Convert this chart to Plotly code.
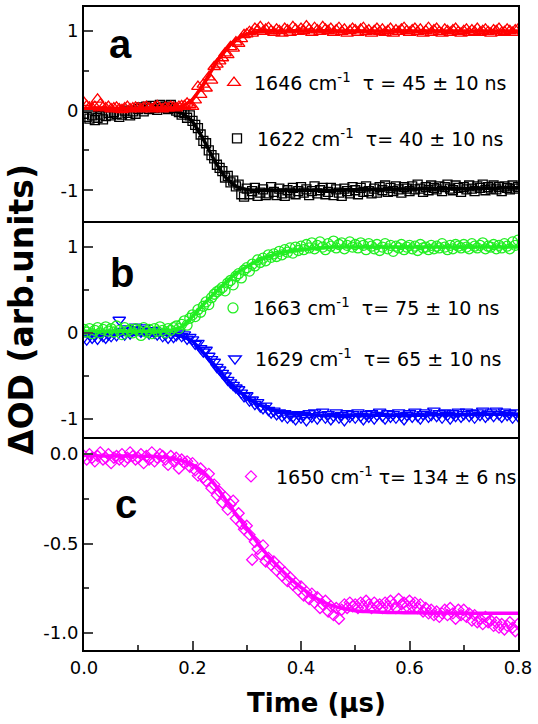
import plotly.graph_objects as go

# sampling grids (μs)
time = [round(i * 0.005, 3) for i in range(161)]
fit_time = [round(i * 0.02, 2) for i in range(41)]

# ---- panel a ----
red_1646 = [
    0.10, 0.06, 0.04, 0.03, 0.05, 0.14, 0.08, 0.04, 0.03, 0.05,
    0.02, 0.03, 0.04, 0.02, 0.01, 0.03, 0.05, 0.02, 0.03, 0.04,
    0.03, 0.02, 0.04, 0.05, 0.03, 0.02, 0.04, 0.06, 0.03, 0.02,
    0.04, 0.03, 0.05, 0.04, 0.03, 0.05, 0.06, 0.06, 0.09, 0.07,
    0.05, 0.13, 0.30, 0.20, 0.33, 0.28, 0.42, 0.38, 0.55, 0.58,
    0.62, 0.66, 0.72, 0.70, 0.80, 0.78, 0.86, 0.84, 0.90, 0.95,
    0.96, 0.99, 0.97, 1.03, 1.01, 1.05, 0.99, 1.02, 1.04, 1.00,
    0.98, 1.02, 1.00, 0.97, 1.03, 1.01, 0.98, 1.05, 1.02, 0.99,
    1.03, 1.00, 1.06, 1.02, 0.98, 1.04, 1.01, 0.99, 1.05, 1.02,
    1.00, 1.03, 0.98, 1.01, 1.04, 0.99, 1.02, 0.97, 1.00, 1.03,
    1.01, 0.98, 1.02, 1.04, 0.99, 1.01, 0.97, 1.00, 1.03, 0.99,
    1.02, 0.98, 1.00, 1.03, 0.97, 1.01, 0.99, 1.02, 1.04, 1.00,
    0.98, 1.01, 1.03, 0.99, 1.02, 0.97, 1.00, 1.04, 0.98, 1.01,
    1.03, 0.99, 0.97, 1.02, 1.00, 0.98, 1.01, 1.03, 0.99, 0.97,
    1.00, 1.02, 0.98, 1.01, 0.99, 1.03, 0.98, 1.00, 1.02, 0.99,
    0.97, 1.01, 1.00, 1.03, 0.98, 0.99, 1.02, 1.00, 0.98, 1.01,
    1.02,
]
black_1622 = [
    -0.04, -0.08, -0.10, -0.06, -0.12, -0.09, -0.05, -0.11, -0.07, -0.03,
    -0.06, -0.02, -0.04, -0.08, -0.05, 0.00, -0.03, -0.06, -0.01, -0.04,
    0.02, 0.04, -0.01, 0.05, 0.02, 0.06, 0.03, 0.01, 0.07, 0.04,
    0.05, 0.02, 0.07, 0.03, 0.00, -0.02, -0.05, -0.03, -0.09, -0.06,
    -0.13, -0.18, -0.22, -0.30, -0.38, -0.41, -0.50, -0.56, -0.60, -0.68,
    -0.72, -0.76, -0.84, -0.82, -0.90, -0.88, -0.95, -0.93, -1.05, -1.08,
    -0.98, -1.05, -1.01, -0.97, -1.07, -1.03, -0.99, -1.06, -1.04, -0.96,
    -1.02, -1.06, -0.98, -1.04, -1.07, -1.00, -1.03, -0.97, -1.05, -1.01,
    -0.96, -1.03, -0.99, -1.06, -1.01, -0.95, -1.04, -1.00, -0.97, -1.05,
    -1.02, -0.97, -1.06, -0.99, -1.03, -1.07, -0.98, -1.01, -1.04, -0.96,
    -1.00, -1.05, -0.97, -1.02, -0.95, -1.01, -1.04, -0.98, -1.03, -0.96,
    -1.00, -0.94, -1.02, -0.97, -1.01, -0.95, -0.99, -1.03, -0.96, -0.98,
    -1.01, -0.95, -0.99, -0.93, -0.98, -1.02, -0.96, -1.00, -0.94, -0.97,
    -0.99, -0.95, -1.01, -0.96, -0.93, -0.98, -1.00, -0.94, -0.97, -1.02,
    -0.96, -0.99, -0.94, -0.98, -1.01, -0.95, -0.97, -0.93, -1.00, -0.96,
    -0.98, -0.94, -0.99, -0.96, -1.01, -0.95, -0.97, -0.99, -0.94, -0.98,
    -0.96,
]
red_fit = [
    0.03, 0.03, 0.03, 0.03, 0.03, 0.03, 0.03, 0.03, 0.03, 0.05,
    0.14, 0.33, 0.56, 0.76, 0.89, 0.96, 0.99, 1.00, 1.00, 1.00,
    1.00, 1.00, 1.00, 1.00, 1.00, 1.00, 1.00, 1.00, 1.00, 1.00,
    1.00, 1.00, 1.00, 1.00, 1.00, 1.00, 1.00, 1.00, 1.00, 1.00,
    1.00,
]
black_fit = [
    0.00, 0.00, 0.00, 0.00, 0.00, 0.00, 0.00, 0.00, -0.005, -0.03,
    -0.14, -0.36, -0.62, -0.83, -0.95, -0.99, -1.00, -1.00, -1.00, -1.00,
    -1.00, -1.00, -1.00, -1.00, -0.995, -0.995, -0.99, -0.99, -0.99, -0.985,
    -0.985, -0.985, -0.98, -0.98, -0.98, -0.98, -0.975, -0.975, -0.975, -0.97,
    -0.97,
]

# ---- panel b ----
green_1663 = [
    0.04, 0.01, 0.05, -0.01, 0.03, 0.06, 0.00, 0.04, 0.07, 0.02,
    0.05, 0.01, 0.08, 0.03, -0.02, 0.06, 0.02, 0.04, 0.00, 0.05,
    0.03, -0.03, 0.06, 0.01, 0.04, -0.01, 0.05, 0.02, 0.07, 0.03,
    0.00, 0.05, 0.03, 0.06, 0.08, 0.05, 0.10, 0.14, 0.09, 0.17,
    0.21, 0.19, 0.27, 0.24, 0.31, 0.36, 0.33, 0.41, 0.45, 0.48,
    0.50, 0.53, 0.49, 0.58, 0.61, 0.56, 0.66, 0.69, 0.64, 0.73,
    0.76, 0.72, 0.80, 0.78, 0.85, 0.82, 0.87, 0.84, 0.91, 0.88,
    0.92, 0.89, 0.95, 0.91, 0.97, 0.94, 0.99, 0.93, 1.00, 0.96,
    1.01, 0.97, 1.03, 0.99, 1.05, 0.98, 1.02, 1.06, 1.00, 0.97,
    1.04, 1.01, 1.07, 0.99, 1.03, 1.05, 0.98, 1.02, 1.06, 1.00,
    1.03, 0.99, 1.05, 1.02, 0.97, 1.04, 1.01, 0.98, 1.03, 0.96,
    1.00, 1.04, 0.98, 1.02, 0.95, 1.01, 0.99, 1.03, 0.97, 1.00,
    1.02, 0.98, 1.01, 0.96, 1.03, 0.99, 1.00, 0.97, 1.02, 0.98,
    1.01, 0.99, 1.04, 1.00, 0.97, 1.02, 0.98, 1.03, 1.01, 0.99,
    1.03, 1.00, 0.98, 1.04, 1.01, 0.99, 1.02, 1.05, 0.98, 1.01,
    1.00, 1.03, 0.98, 1.02, 0.99, 1.04, 1.01, 0.98, 1.06, 1.02,
    1.08,
]
blue_1629 = [
    -0.05, -0.08, -0.02, -0.06, -0.03, -0.07, -0.01, -0.04, -0.06, -0.02,
    -0.04, 0.00, -0.03, 0.15, 0.02, -0.02, 0.05, -0.01, 0.03, 0.07,
    0.04, 0.01, 0.06, 0.02, -0.01, 0.03, 0.00, -0.02, 0.01, -0.04,
    -0.02, -0.06, -0.01, -0.05, -0.03, 0.00, -0.04, -0.02, -0.07, -0.05,
    -0.08, -0.13, -0.12, -0.18, -0.22, -0.20, -0.27, -0.31, -0.34, -0.40,
    -0.43, -0.47, -0.50, -0.55, -0.58, -0.61, -0.64, -0.66, -0.70, -0.74,
    -0.73, -0.79, -0.78, -0.83, -0.81, -0.86, -0.88, -0.85, -0.90, -0.93,
    -0.91, -0.95, -0.93, -0.97, -0.94, -0.99, -0.96, -0.98, -1.01, -0.95,
    -0.99, -0.96, -1.02, -0.94, -0.98, -0.93, -1.00, -0.96, -0.92, -0.99,
    -0.95, -1.01, -0.97, -0.93, -0.99, -0.96, -1.02, -0.94, -0.98, -0.95,
    -0.99, -0.93, -0.97, -1.01, -0.95, -0.98, -0.94, -1.00, -0.96, -0.92,
    -0.97, -1.00, -0.94, -0.98, -0.95, -0.99, -0.93, -0.97, -1.01, -0.96,
    -0.94, -0.98, -0.92, -0.97, -1.00, -0.95, -0.93, -0.98, -0.96, -0.91,
    -0.97, -0.94, -0.99, -0.93, -0.96, -1.00, -0.94, -0.97, -0.92, -0.98,
    -0.95, -0.92, -0.97, -0.94, -0.99, -0.93, -0.96, -0.91, -0.98, -0.95,
    -0.93, -0.97, -0.91, -0.95, -0.98, -0.92, -0.96, -0.94, -0.99, -0.93,
    -0.97,
]
green_fit = [
    0.02, 0.02, 0.02, 0.02, 0.02, 0.02, 0.02, 0.02, 0.03, 0.07,
    0.19, 0.33, 0.46, 0.58, 0.69, 0.77, 0.84, 0.89, 0.93, 0.955,
    0.97, 0.98, 0.99, 1.00, 1.00, 1.00, 1.00, 1.00, 1.00, 1.00,
    1.00, 1.00, 1.00, 1.00, 1.00, 1.00, 1.00, 1.00, 1.00, 1.00,
    1.00,
]
blue_fit = [
    -0.02, -0.02, -0.02, -0.02, -0.02, -0.02, -0.02, -0.02, -0.02, -0.04,
    -0.10, -0.23, -0.37, -0.52, -0.65, -0.75, -0.83, -0.88, -0.915, -0.935,
    -0.948, -0.955, -0.96, -0.96, -0.96, -0.96, -0.96, -0.96, -0.96, -0.96,
    -0.96, -0.96, -0.955, -0.955, -0.955, -0.955, -0.95, -0.95, -0.95, -0.95,
    -0.95,
]

# ---- panel c ----
magenta_1650 = [
    -0.01, -0.03, 0.00, -0.02, -0.04, -0.01, 0.01, -0.03, -0.02, 0.00,
    -0.05, -0.02, -0.01, -0.03, 0.00, -0.04, -0.02, 0.01, -0.01, -0.03,
    -0.02, 0.00, -0.05, -0.01, -0.03, 0.01, -0.04, -0.02, 0.00, -0.01,
    -0.03, -0.06, -0.01, -0.04, -0.02, -0.08, -0.03, -0.05, -0.04, -0.07,
    -0.05, -0.09, -0.12, -0.08, -0.13, -0.15, -0.11, -0.19, -0.17, -0.23,
    -0.21, -0.27, -0.24, -0.31, -0.28, -0.26, -0.36, -0.33, -0.39, -0.42,
    -0.40, -0.45, -0.59, -0.49, -0.53, -0.56, -0.51, -0.60, -0.58, -0.62,
    -0.60, -0.65, -0.63, -0.68, -0.66, -0.71, -0.69, -0.73, -0.72, -0.76,
    -0.74, -0.79, -0.77, -0.81, -0.78, -0.83, -0.80, -0.86, -0.84, -0.82,
    -0.88, -0.85, -0.90, -0.86, -0.92, -0.87, -0.84, -0.86, -0.83, -0.85,
    -0.84, -0.86, -0.83, -0.85, -0.82, -0.84, -0.86, -0.83, -0.85, -0.84,
    -0.86, -0.83, -0.85, -0.82, -0.84, -0.86, -0.81, -0.84, -0.83, -0.85,
    -0.82, -0.85, -0.83, -0.86, -0.84, -0.88, -0.86, -0.89, -0.87, -0.90,
    -0.88, -0.91, -0.89, -0.87, -0.90, -0.86, -0.89, -0.92, -0.87, -0.90,
    -0.87, -0.91, -0.89, -0.93, -0.90, -0.94, -0.92, -0.95, -0.91, -0.94,
    -0.93, -0.96, -0.94, -0.97, -0.95, -0.98, -0.96, -0.94, -0.97, -0.99,
    -0.95,
]
magenta_fit = [
    -0.005, -0.008, -0.01, -0.01, -0.01, -0.011, -0.012, -0.015, -0.022, -0.036,
    -0.06, -0.10, -0.165, -0.25, -0.335, -0.415, -0.495, -0.57, -0.635, -0.695,
    -0.745, -0.79, -0.825, -0.85, -0.865, -0.875, -0.88, -0.883, -0.885, -0.886,
    -0.887, -0.887, -0.888, -0.888, -0.889, -0.889, -0.89, -0.89, -0.89, -0.89,
    -0.89,
]

# tick labels (hyphen minus, as in the reference)
ab_tickvals = [-1, 0, 1]
ab_ticktext = ["-1", "0", "1"]
c_tickvals = [-1.0, -0.5, 0.0]
c_ticktext = ["-1.0", "-0.5", "0.0"]
x_tickvals = [0.0, 0.2, 0.4, 0.6, 0.8]
x_ticktext = ["0.0", "0.2", "0.4", "0.6", "0.8"]

labels = {
    "1646": "1646 cm<sup>-1</sup>\u00a0\u00a0τ = 45 ± 10 ns",
    "1622": "1622 cm<sup>-1</sup>\u00a0\u00a0τ= 40 ± 10 ns",
    "1663": "1663 cm<sup>-1</sup>\u00a0\u00a0τ= 75 ± 10 ns",
    "1629": "1629 cm<sup>-1</sup>\u00a0\u00a0τ= 65 ± 10 ns",
    "1650": "1650 cm<sup>-1</sup> τ= 134 ± 6 ns",
}

RED, BLACK, GREEN, BLUE, MAGENTA = "#ff0000", "#000000", "#22ee22", "#0000ff", "#ff00ff"
FONT = "DejaVu Sans"

fig = go.Figure()

def add_series(y, fit, color, symbol, size, name, xa, ya, legend):
    fig.add_trace(go.Scatter(
        x=time, y=y, mode="markers", name=name, legend=legend,
        xaxis=xa, yaxis=ya,
        marker=dict(symbol=symbol, size=size, color=color,
                    line=dict(color=color, width=1.3)),
    ))
    fig.add_trace(go.Scatter(
        x=fit_time, y=fit, mode="lines", showlegend=False,
        xaxis=xa, yaxis=ya,
        line=dict(color=color, width=3.5, shape="spline", smoothing=0.6),
    ))

# panel a (top): x3/y3
add_series(black_1622, black_fit, BLACK, "square-open", 9, labels["1622"], "x3", "y3", "legend2")
add_series(red_1646, red_fit, RED, "triangle-up-open", 11, labels["1646"], "x3", "y3", "legend")
# panel b (middle): x2/y2
add_series(blue_1629, blue_fit, BLUE, "triangle-down-open", 11, labels["1629"], "x2", "y2", "legend4")
add_series(green_1663, green_fit, GREEN, "circle-open", 10, labels["1663"], "x2", "y2", "legend3")
# panel c (bottom): x/y
add_series(magenta_1650, magenta_fit, MAGENTA, "diamond-open", 8.5, labels["1650"], "x", "y", "legend5")

# geometry helpers (plot area 84..518 px wide, 5..650 px tall)
def px(x):
    return (x - 84) / 434.0

def py(y):
    return (650 - y) / 645.0

d_c = [0.0, 214 / 645]
d_b = [214 / 645, 430 / 645]
d_a = [430 / 645, 1.0]

line_common = dict(showline=True, linecolor="black", linewidth=2, showgrid=False, zeroline=False)
tickfont = dict(family=FONT, size=18, color="black")

xr = [0, 0.8]
fig.update_layout(
    width=538, height=724,
    margin=dict(l=84, r=20, t=5, b=74),
    paper_bgcolor="white", plot_bgcolor="white",
    font=dict(family=FONT, color="black"),
    xaxis=dict(range=xr, domain=[0, 1], anchor="y", ticks="inside", ticklen=9, tickwidth=2,
               tickmode="array", tickvals=x_tickvals, ticktext=x_ticktext, tickfont=tickfont,
               minor=dict(ticks="inside", ticklen=5, tickwidth=2, dtick=0.1, tick0=0),
               mirror=False, **line_common),
    xaxis2=dict(range=xr, domain=[0, 1], anchor="y2", matches="x", showticklabels=False,
                ticks="", mirror=False, **line_common),
    xaxis3=dict(range=xr, domain=[0, 1], anchor="y3", matches="x", showticklabels=False,
                ticks="", mirror=True, **line_common),
    yaxis=dict(domain=d_c, range=[-1.095, 0.098], anchor="x", ticks="inside", ticklen=9,
               tickwidth=2, tickmode="array", tickvals=c_tickvals, ticktext=c_ticktext,
               tickfont=tickfont,
               minor=dict(ticks="inside", ticklen=5, tickwidth=2, dtick=0.25, tick0=0),
               mirror=True, **line_common),
    yaxis2=dict(domain=d_b, range=[-1.21, 1.30], anchor="x2", ticks="inside", ticklen=9,
                tickwidth=2, tickmode="array", tickvals=ab_tickvals, ticktext=ab_ticktext,
                tickfont=tickfont,
                minor=dict(ticks="inside", ticklen=5, tickwidth=2, dtick=0.5, tick0=0),
                mirror=True, **line_common),
    yaxis3=dict(domain=d_a, range=[-1.39, 1.30], anchor="x3", ticks="inside", ticklen=9,
                tickwidth=2, tickmode="array", tickvals=ab_tickvals, ticktext=ab_ticktext,
                tickfont=tickfont,
                minor=dict(ticks="inside", ticklen=5, tickwidth=2, dtick=0.5, tick0=0),
                mirror=True, **line_common),
)

legfont = dict(family=FONT, size=19, color="black")
def leg(xp, yp, itemwidth=30):
    return dict(x=px(xp), y=py(yp), xanchor="left", yanchor="middle",
                bgcolor="rgba(0,0,0,0)", font=legfont, itemwidth=itemwidth,
                borderwidth=0)

fig.update_layout(
    legend=leg(214, 81),
    legend2=leg(217, 137),
    legend3=leg(213, 307),
    legend4=leg(215, 358),
    legend5=leg(226, 476, 40),
)

annotations = [
    dict(text="<b>a</b>", x=px(120), y=py(42), font=dict(family="Liberation Sans", size=40)),
    dict(text="<b>b</b>", x=px(122), y=py(272), font=dict(family="Liberation Sans", size=40)),
    dict(text="<b>c</b>", x=px(126), y=py(504), font=dict(family="Liberation Sans", size=40)),
    dict(text="<b>Time (μs)</b>", x=px(316), y=py(703), font=dict(family=FONT, size=26)),
    dict(text="<b>ΔOD (arb.units)</b>", x=px(21), y=py(309), textangle=-90,
         font=dict(family=FONT, size=33)),
]
for a in annotations:
    fig.add_annotation(xref="paper", yref="paper", showarrow=False,
                       xanchor="center", yanchor="middle", **a)

fig.write_html("out.html", config={"displayModeBar": False},
               post_script="document.body.style.margin='0px';")
